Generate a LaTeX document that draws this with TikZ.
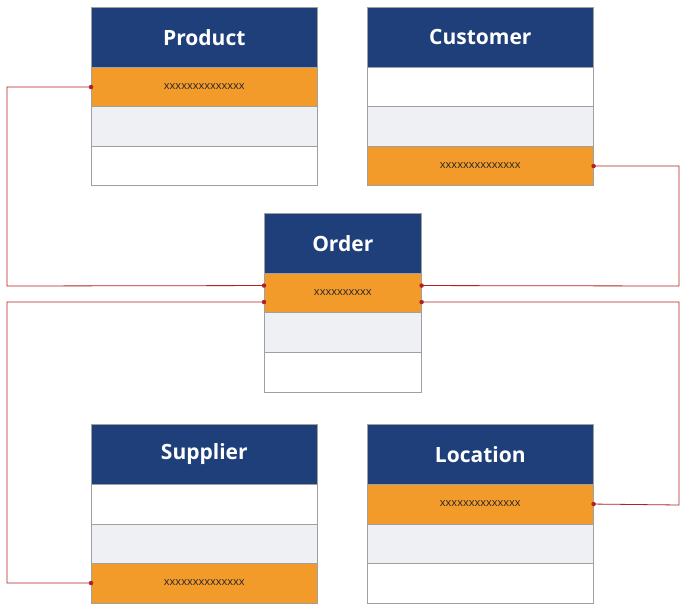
\documentclass[tikz,border=0pt]{standalone}
\usepackage{fontspec}
\setmainfont{Open Sans}
\definecolor{hdr}{HTML}{1F3F7A}
\definecolor{org}{HTML}{F29A2A}
\definecolor{gry}{HTML}{EEF0F4}
\definecolor{brd}{HTML}{A0A0A0}
\definecolor{lnk}{HTML}{B22222}
\begin{document}
\begin{tikzpicture}[x=1pt,y=-1pt,
  row/.style={draw=brd,line width=0.6pt,inner sep=0pt,anchor=north west},
  ttl/.style={text=white,font=\bfseries\fontsize{21}{24}\selectfont},
  xx/.style={font=\fontsize{11}{13}\selectfont,text=black!85},
  con/.style={draw=lnk,line width=0.8pt},
  dot/.style={circle,fill=lnk,inner sep=0pt,minimum size=4.5pt}]
\useasboundingbox (0,0) rectangle (685,609);
% table macro via explicit nodes
\newcommand{\tbl}[8]{% name, x, y, w, title, fill1, fill2, fill3
  \node[row,fill=hdr,minimum width=#4pt,minimum height=60pt] (#1h) at (#2,#3) {};
  \node[ttl] at (#1h.center) {#5};
  \node[row,fill=#6,minimum width=#4pt,minimum height=39.5pt] (#1a) at (#2,#3+60) {};
  \node[row,fill=#7,minimum width=#4pt,minimum height=39.5pt] (#1b) at (#2,#3+99.5) {};
  \node[row,fill=#8,minimum width=#4pt,minimum height=39.5pt] (#1c) at (#2,#3+139) {};
}
\tbl{p}{91}{7}{226}{Product}{org}{gry}{white}
\tbl{c}{367}{7}{226}{Customer}{white}{gry}{org}
\tbl{o}{264}{213}{157}{Order}{org}{gry}{white}
\tbl{s}{91}{424}{226}{Supplier}{white}{gry}{org}
\tbl{l}{367}{424}{226}{Location}{org}{gry}{white}
\node[xx] at (pa.center) {xxxxxxxxxxxxxx};
\node[xx] at (cc.center) {xxxxxxxxxxxxxx};
\node[xx] at (oa.center) {xxxxxxxxxx};
\node[xx] at (sc.center) {xxxxxxxxxxxxxx};
\node[xx] at (la.center) {xxxxxxxxxxxxxx};
\coordinate (oL1) at ([yshift=7.5pt]oa.west);
\coordinate (oL2) at ([yshift=-9pt]oa.west);
\coordinate (oR1) at ([yshift=7.5pt]oa.east);
\coordinate (oR2) at ([yshift=-9pt]oa.east);
\draw[con] (pa.west) -| (7,286) -- (oL1);
\draw[con] (cc.east) -| (679,286) -- (oR1);
\draw[con] (oL2) -| (7,583) -- (sc.west);
\draw[con] (oR2) -| (679,505) -- (la.east);
\foreach \p in {pa.west,cc.east,sc.west,la.east,oL1,oL2,oR1,oR2}
  \node[dot] at (\p) {};
\end{tikzpicture}
\end{document}
